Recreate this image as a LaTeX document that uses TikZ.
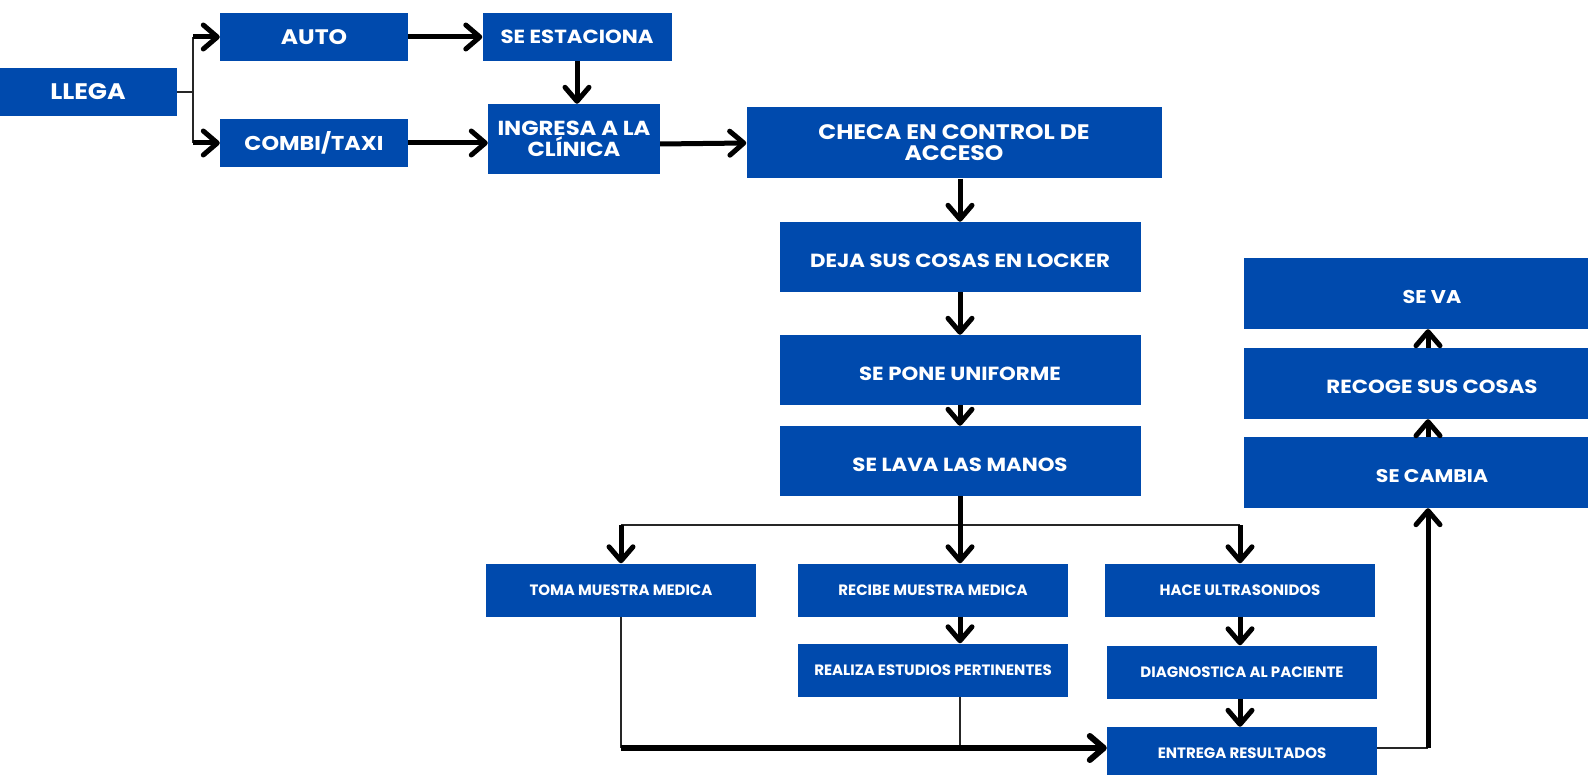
\documentclass[tikz,border=0pt]{standalone}
\usepackage{fontspec}
\setmainfont{Poppins}
\newfontfamily\ancha{Poppins}[FakeStretch=1.12]
\usetikzlibrary{calc,arrows.meta}
\definecolor{azul}{HTML}{004AAD}
\tikzset{%
  >={Straight Barb[length=14pt,width=24pt,round]}, % option for chevron arrows
  caja/.style={rectangle,fill=azul,text=white,inner sep=0pt,align=center},
  grande/.style={caja,font=\ancha\fontsize{19}{21}\selectfont\bfseries},
  mayor/.style={caja,font=\ancha\fontsize{21}{21}\selectfont\bfseries},
  chica/.style={caja,font=\fontsize{15}{17}\selectfont\bfseries},
  bajar/.style={text height=21pt}, % single line text a bit lower
  flecha/.style={->,line width=5pt},
  linea/.style={line width=2pt,draw=black!85}
}
\begin{document}
\begin{tikzpicture}[x=1pt,y=-1pt] % FLUJO

%% frame

\useasboundingbox (0,0) rectangle (1588,775);
\clip (0,0) rectangle (1588,775);

%% arrival boxes

\node[mayor,font=\ancha\fontsize{22.5}{24}\selectfont\bfseries,
    minimum width=178pt,minimum height=48pt] (llega) at (88,92) {LLEGA};
\node[mayor,minimum width=188pt,minimum height=48pt] (auto) at (314,37) {AUTO};
\node[grande,font=\ancha\fontsize{20}{21}\selectfont\bfseries,
    minimum width=188pt,minimum height=48pt] (combi) at (314,143) {COMBI/TAXI};
\node[grande,minimum width=189pt,minimum height=48pt] (estaciona) at (577,37) {SE ESTACIONA};
\node[grande,font=\ancha\fontsize{20.3}{20.5}\selectfont\bfseries,
    minimum width=172pt,minimum height=70pt] (ingresa) at (574,139)
    {INGRESA A LA\\CLÍNICA};

%% central column

\node[mayor,minimum width=415pt,minimum height=71pt] (checa) at (954,143)
    {CHECA EN CONTROL DE\\ACCESO};
\node[grande,bajar,minimum width=361pt,minimum height=70pt] (locker) at (960,257)
    {DEJA SUS COSAS EN LOCKER};
\node[grande,bajar,minimum width=361pt,minimum height=70pt] (uniforme) at (960,370)
    {SE PONE UNIFORME};
\node[grande,bajar,minimum width=361pt,minimum height=70pt] (manos) at (960,461)
    {SE LAVA LAS MANOS};

%% three branches

\node[chica,minimum width=270pt,minimum height=53pt] (toma) at (621,590) {TOMA MUESTRA MEDICA};
\node[chica,minimum width=270pt,minimum height=53pt] (recibe) at (933,590) {RECIBE MUESTRA MEDICA};
\node[chica,minimum width=270pt,minimum height=53pt] (realiza) at (933,670)
    {REALIZA ESTUDIOS PERTINENTES};
\node[chica,minimum width=270pt,minimum height=53pt] (ultra) at (1240,590) {HACE ULTRASONIDOS};
\node[chica,minimum width=270pt,minimum height=53pt] (diag) at (1242,672)
    {DIAGNOSTICA AL PACIENTE};
\node[chica,minimum width=270pt,minimum height=53pt] (entrega) at (1242,753.5)
    {ENTREGA RESULTADOS};

%% exit column (cut by the right border)

\node[grande,bajar,font=\ancha\fontsize{18.3}{20}\selectfont\bfseries,
    minimum width=376pt,minimum height=71pt] (cambia) at (1432,472.5) {SE CAMBIA};
\node[grande,bajar,minimum width=376pt,minimum height=71pt] (recoge) at (1432,383.5)
    {RECOGE SUS COSAS};
\node[grande,bajar,font=\ancha\fontsize{18.5}{20}\selectfont\bfseries,
    minimum width=376pt,minimum height=71pt] (seva) at (1432,293.5) {SE VA};

%% arrival connectors

\coordinate (fork) at ($(llega.east)+(16,0)$);
\draw[linea] (llega.east) -- (fork);
\draw[linea] (fork |- auto.west) -- (fork |- combi.west);
\draw[flecha] (fork |- auto.west) -- (auto.west);
\draw[flecha] (fork |- combi.west) -- (combi.west);
\draw[flecha] (auto) -- (estaciona);
\draw[flecha] (estaciona.south) -- (estaciona.south |- ingresa.north);
\draw[flecha] (combi.east) -- (combi.east -| ingresa.west);
\draw[flecha] ($(ingresa.east)+(0,5)$) -- (checa.west);

%% central connectors

\draw[flecha] (locker.north |- checa.south) -- (locker.north);
\draw[flecha] (locker) -- (uniforme);
\draw[flecha] (uniforme) -- (manos);

%% split into branches

\coordinate (reparto) at ($(manos.south)+(0,29)$);
\draw[linea] (reparto -| toma.north) -- (reparto -| ultra.north);
\draw[flecha] (manos.south) -- (manos.south |- recibe.north);
\draw[flecha] (reparto -| toma.north) -- (toma.north);
\draw[flecha] (reparto -| ultra.north) -- (ultra.north);
\draw[flecha] (manos.south |- recibe.south) -- (manos.south |- realiza.north);
\draw[flecha] (ultra.south) -- (ultra.south |- diag.north);
\draw[flecha] (ultra.south |- diag.south) -- (ultra.south |- entrega.north);

%% join and exit

\coordinate (union) at (0,748);
\coordinate (subida) at (1428,748);
\draw[linea] (toma.south) -- (toma.south |- union);
\draw[linea] (manos.south |- realiza.south) -- (manos.south |- union);
\draw[flecha,line width=6pt] (toma.south |- union) -- (union -| entrega.west);
\draw[linea] (union -| entrega.east) -- (subida);
\draw[flecha] (subida) -- (subida |- cambia.south);
\draw[flecha] (subida |- cambia.north) -- (subida |- recoge.south);
\draw[flecha] (subida |- recoge.north) -- (subida |- seva.south);

\end{tikzpicture}
\end{document}
